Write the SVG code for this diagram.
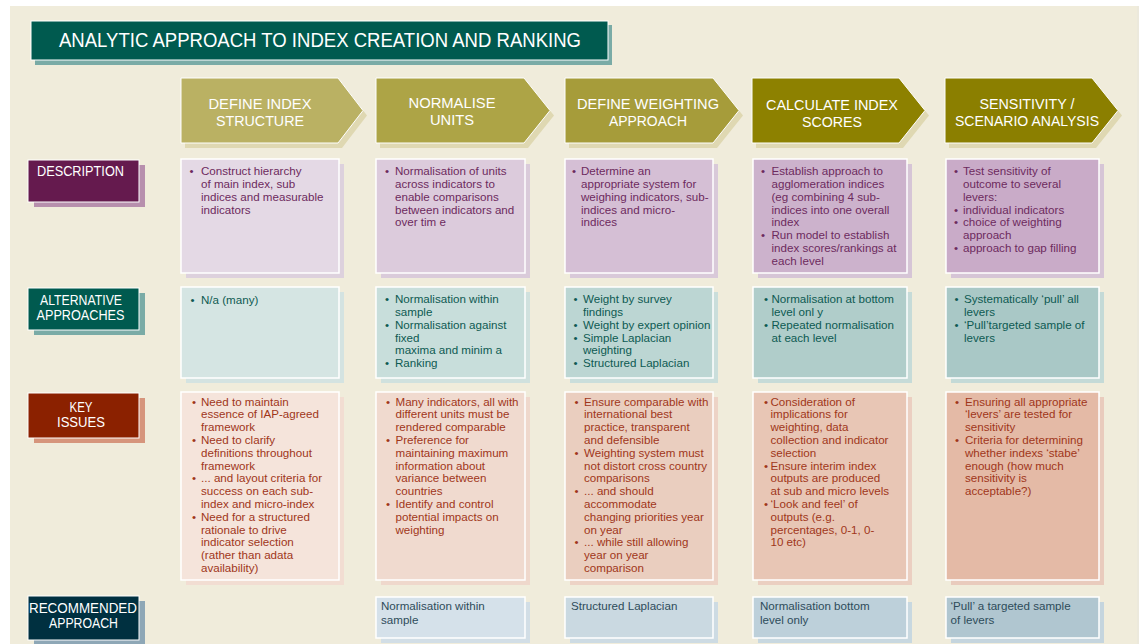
<svg xmlns="http://www.w3.org/2000/svg" width="1145" height="644" viewBox="0 0 1145 644">
<style>
.t{font-family:"Liberation Sans",Arial,sans-serif;font-size:11.6px}
.hd{font-family:"Liberation Sans",Arial,sans-serif;font-size:15px;fill:#ffffff;text-anchor:middle}
.lb{font-family:"Liberation Sans",Arial,sans-serif;font-size:14px;fill:#ffffff}
.lbc{font-family:"Liberation Sans",Arial,sans-serif;font-size:14px;fill:#ffffff;text-anchor:middle}
.d{fill:#6d2a5e}.a{fill:#0d5a52}.k{fill:#a0361a}.r{fill:#2e4c5a}
.cell{stroke:#ffffff;stroke-width:1.5}
.hdr{stroke:#ffffff;stroke-width:1}
</style>
<rect x="0" y="0" width="1145" height="644" fill="#ffffff"/>
<rect x="10" y="6" width="1127" height="640" fill="#f0ecdb"/>
<line x1="1138" y1="6" x2="1138" y2="644" stroke="#e6e2d0" stroke-width="1.5"/>

<g id="title">
<rect x="35" y="25" width="577" height="40" fill="#7aaba6"/>
<rect x="31" y="21" width="577" height="39" fill="#005a4f" stroke="#ffffff" stroke-width="1"/>
<text x="320" y="47" font-family="Liberation Sans, Arial, sans-serif" font-size="20" fill="#ffffff" text-anchor="middle" textLength="522" lengthAdjust="spacingAndGlyphs">ANALYTIC APPROACH TO INDEX CREATION AND RANKING</text>
</g>

<!-- headers -->
<g id="h1">
<path d="M185,83 H342 L367,115.5 L342,148 H185 Z" fill="#dfd8b2"/>
<path class="hdr" d="M181,78 H338 L363,110.5 L338,143 H181 Z" fill="#bab163"/>
<text class="hd" x="260" y="108.5" textLength="103" lengthAdjust="spacingAndGlyphs">DEFINE INDEX</text>
<text class="hd" x="260" y="125.5" textLength="88" lengthAdjust="spacingAndGlyphs">STRUCTURE</text>
</g>
<g id="h2">
<path d="M380,83 H528 L554,115.5 L528,148 H380 Z" fill="#dfd8b2"/>
<path class="hdr" d="M376,78 H524 L550,110.5 L524,143 H376 Z" fill="#ada446"/>
<text class="hd" x="452" y="107.5" textLength="87" lengthAdjust="spacingAndGlyphs">NORMALISE</text>
<text class="hd" x="452" y="124.5" textLength="44" lengthAdjust="spacingAndGlyphs">UNITS</text>
</g>
<g id="h3">
<path d="M569,83 H717 L743,115.5 L717,148 H569 Z" fill="#dfd8b2"/>
<path class="hdr" d="M565,78 H713 L739,110.5 L713,143 H565 Z" fill="#a69c3a"/>
<text class="hd" x="648" y="108.5" textLength="142" lengthAdjust="spacingAndGlyphs">DEFINE WEIGHTING</text>
<text class="hd" x="648" y="126" textLength="78" lengthAdjust="spacingAndGlyphs">APPROACH</text>
</g>
<g id="h4">
<path d="M756,83 H903 L929,115.5 L903,148 H756 Z" fill="#dfd8b2"/>
<path class="hdr" d="M752,78 H899 L925,110.5 L899,143 H752 Z" fill="#8d8100"/>
<text class="hd" x="832" y="109.5" textLength="132" lengthAdjust="spacingAndGlyphs">CALCULATE INDEX</text>
<text class="hd" x="832" y="127" textLength="60" lengthAdjust="spacingAndGlyphs">SCORES</text>
</g>
<g id="h5">
<path d="M949,83 H1096 L1122,115.5 L1096,148 H949 Z" fill="#dfd8b2"/>
<path class="hdr" d="M945,78 H1092 L1118,110.5 L1092,143 H945 Z" fill="#8b7f00"/>
<text class="hd" x="1027" y="108.5" textLength="95" lengthAdjust="spacingAndGlyphs">SENSITIVITY /</text>
<text class="hd" x="1027" y="126" textLength="144" lengthAdjust="spacingAndGlyphs">SCENARIO ANALYSIS</text>
</g>

<!-- row labels -->
<g id="lbl-description">
<rect x="34" y="165" width="111" height="42" fill="#b78fad"/>
<rect x="28" y="160" width="111" height="42" fill="#651a4e" stroke="#ffffff" stroke-width="1"/>
<text class="lb" x="37" y="176" textLength="87" lengthAdjust="spacingAndGlyphs">DESCRIPTION</text>
</g>
<g id="lbl-alternative">
<rect x="34" y="293" width="111" height="42" fill="#7aaba6"/>
<rect x="28" y="288" width="111" height="42" fill="#005a4f" stroke="#ffffff" stroke-width="1"/>
<text class="lbc" x="81" y="305" textLength="82" lengthAdjust="spacingAndGlyphs">ALTERNATIVE</text>
<text class="lbc" x="80.5" y="320" textLength="88" lengthAdjust="spacingAndGlyphs">APPROACHES</text>
</g>
<g id="lbl-key">
<rect x="34" y="398" width="111" height="45" fill="#d6957c"/>
<rect x="28" y="393" width="111" height="45" fill="#8b2100" stroke="#ffffff" stroke-width="1"/>
<text class="lbc" x="81" y="412" textLength="23" lengthAdjust="spacingAndGlyphs">KEY</text>
<text class="lbc" x="81" y="427" textLength="48" lengthAdjust="spacingAndGlyphs">ISSUES</text>
</g>
<g id="lbl-recommended">
<rect x="34" y="601" width="111" height="45" fill="#8ea7b6"/>
<rect x="28" y="596" width="111" height="44" fill="#003040" stroke="#ffffff" stroke-width="1"/>
<text class="lbc" x="83" y="613" textLength="108" lengthAdjust="spacingAndGlyphs">RECOMMENDED</text>
<text class="lbc" x="83.5" y="628" textLength="69" lengthAdjust="spacingAndGlyphs">APPROACH</text>
</g>

<!-- DESCRIPTION row -->
<g id="desc-1">
<rect x="186" y="164" width="158" height="114" fill="#ddd1dd"/>
<rect class="cell" x="181" y="159" width="158" height="114" fill="#e4d9e5"/>
<text class="t d"><tspan x="189.5" y="175">•</tspan></text>
<text class="t d"><tspan x="201" y="175">Construct hierarchy</tspan><tspan x="201" y="187.85">of main index, sub</tspan><tspan x="201" y="200.7">indices and measurable</tspan><tspan x="201" y="213.55">indicators</tspan></text>
</g>
<g id="desc-2">
<rect x="381" y="164" width="149" height="114" fill="#dacbda"/>
<rect class="cell" x="376" y="159" width="149" height="114" fill="#dccbdc"/>
<text class="t d"><tspan x="385" y="175">•</tspan></text>
<text class="t d"><tspan x="395" y="175">Normalisation of units</tspan><tspan x="395" y="187.85">across indicators to</tspan><tspan x="395" y="200.7">enable comparisons</tspan><tspan x="395" y="213.55">between indicators and</tspan><tspan x="395" y="226.4">over tim e</tspan></text>
</g>
<g id="desc-3">
<rect x="570" y="164" width="148" height="114" fill="#d9c9d9"/>
<rect class="cell" x="565" y="159" width="148" height="114" fill="#d5bfd5"/>
<text class="t d"><tspan x="572" y="175">•</tspan></text>
<text class="t d"><tspan x="581" y="175">Determine an</tspan><tspan x="581" y="187.85">appropriate system for</tspan><tspan x="581" y="200.7">weighing indicators, sub-</tspan><tspan x="581" y="213.55">indices and micro-</tspan><tspan x="581" y="226.4">indices</tspan></text>
</g>
<g id="desc-4">
<rect x="758" y="164" width="154" height="114" fill="#d6c5d6"/>
<rect class="cell" x="753" y="159" width="154" height="114" fill="#ccb2cc"/>
<text class="t d"><tspan x="761" y="175">•</tspan><tspan x="761" y="239.25">•</tspan></text>
<text class="t d"><tspan x="771.5" y="175">Establish approach to</tspan><tspan x="771.5" y="187.85">agglomeration indices</tspan><tspan x="771.5" y="200.7">(eg combining 4 sub-</tspan><tspan x="771.5" y="213.55">indices into one overall</tspan><tspan x="771.5" y="226.4">index</tspan><tspan x="771.5" y="239.25">Run model to establish</tspan><tspan x="771.5" y="252.1">index scores/rankings at</tspan><tspan x="771.5" y="264.95">each level</tspan></text>
</g>
<g id="desc-5">
<rect x="951" y="164" width="153" height="114" fill="#d6c5d6"/>
<rect class="cell" x="946" y="159" width="153" height="114" fill="#c9abc8"/>
<text class="t d"><tspan x="954" y="175">•</tspan><tspan x="954" y="213.55">•</tspan><tspan x="954" y="226.4">•</tspan><tspan x="954" y="252.1">•</tspan></text>
<text class="t d"><tspan x="963" y="175">Test sensitivity of</tspan><tspan x="963" y="187.85">outcome to several</tspan><tspan x="963" y="200.7">levers:</tspan><tspan x="963" y="213.55">individual indicators</tspan><tspan x="963" y="226.4">choice of weighting</tspan><tspan x="963" y="239.25">approach</tspan><tspan x="963" y="252.1">approach to gap filling</tspan></text>
</g>

<!-- ALTERNATIVE row -->
<g id="alt-1">
<rect x="186" y="292" width="158" height="91" fill="#d4e3e1"/>
<rect class="cell" x="181" y="287" width="158" height="91" fill="#d5e5e3"/>
<text class="t a"><tspan x="190.5" y="303.5">•</tspan></text>
<text class="t a"><tspan x="201" y="303.5">N/a (many)</tspan></text>
</g>
<g id="alt-2">
<rect x="381" y="292" width="149" height="91" fill="#d0e1de"/>
<rect class="cell" x="376" y="287" width="149" height="91" fill="#c8dedb"/>
<text class="t a"><tspan x="385" y="303">•</tspan><tspan x="385" y="328.7">•</tspan><tspan x="385" y="367.25">•</tspan></text>
<text class="t a"><tspan x="395" y="303">Normalisation within</tspan><tspan x="395" y="315.85">sample</tspan><tspan x="395" y="328.7">Normalisation against</tspan><tspan x="395" y="341.55">fixed</tspan><tspan x="395" y="354.4">maxima and minim a</tspan><tspan x="395" y="367.25">Ranking</tspan></text>
</g>
<g id="alt-3">
<rect x="570" y="292" width="148" height="91" fill="#cadedb"/>
<rect class="cell" x="565" y="287" width="148" height="91" fill="#bcd6d3"/>
<text class="t a"><tspan x="573.5" y="303">•</tspan><tspan x="573.5" y="328.7">•</tspan><tspan x="573.5" y="341.55">•</tspan><tspan x="573.5" y="367.25">•</tspan></text>
<text class="t a"><tspan x="583" y="303">Weight by survey</tspan><tspan x="583" y="315.85">findings</tspan><tspan x="583" y="328.7">Weight by expert opinion</tspan><tspan x="583" y="341.55">Simple Laplacian</tspan><tspan x="583" y="354.4">weighting</tspan><tspan x="583" y="367.25">Structured Laplacian</tspan></text>
</g>
<g id="alt-4">
<rect x="758" y="292" width="154" height="91" fill="#c6dbd8"/>
<rect class="cell" x="753" y="287" width="154" height="91" fill="#b0cdca"/>
<text class="t a"><tspan x="764" y="303">•</tspan><tspan x="764" y="328.7">•</tspan></text>
<text class="t a"><tspan x="771.5" y="303">Normalisation at bottom</tspan><tspan x="771.5" y="315.85">level onl y</tspan><tspan x="771.5" y="328.7">Repeated normalisation</tspan><tspan x="771.5" y="341.55">at each level</tspan></text>
</g>
<g id="alt-5">
<rect x="951" y="292" width="153" height="91" fill="#c4dad7"/>
<rect class="cell" x="946" y="287" width="153" height="91" fill="#a9c8c6"/>
<text class="t a"><tspan x="954.5" y="303">•</tspan><tspan x="954.5" y="328.7">•</tspan></text>
<text class="t a"><tspan x="964" y="303">Systematically ‘pull’ all</tspan><tspan x="964" y="315.85">levers</tspan><tspan x="964" y="328.7">‘Pull’targeted sample of</tspan><tspan x="964" y="341.55">levers</tspan></text>
</g>

<!-- KEY ISSUES row -->
<g id="key-1">
<rect x="186" y="397" width="158" height="188" fill="#f2ddd2"/>
<rect class="cell" x="181" y="392" width="158" height="188" fill="#f5e4db"/>
<text class="t k"><tspan x="192" y="405.5">•</tspan><tspan x="192" y="443.9">•</tspan><tspan x="192" y="482.3">•</tspan><tspan x="192" y="520.7">•</tspan></text>
<text class="t k"><tspan x="201" y="405.5">Need to maintain</tspan><tspan x="201" y="418.3">essence of IAP-agreed</tspan><tspan x="201" y="431.1">framework</tspan><tspan x="201" y="443.9">Need to clarify</tspan><tspan x="201" y="456.7">definitions throughout</tspan><tspan x="201" y="469.5">framework</tspan><tspan x="201" y="482.3">... and layout criteria for</tspan><tspan x="201" y="495.1">success on each sub-</tspan><tspan x="201" y="507.9">index and micro-index</tspan><tspan x="201" y="520.7">Need for a structured</tspan><tspan x="201" y="533.5">rationale to drive</tspan><tspan x="201" y="546.3">indicator selection</tspan><tspan x="201" y="559.1">(rather than adata</tspan><tspan x="201" y="571.9">availability)</tspan></text>
</g>
<g id="key-2">
<rect x="381" y="397" width="149" height="188" fill="#efd8cc"/>
<rect class="cell" x="376" y="392" width="149" height="188" fill="#f0dacf"/>
<text class="t k"><tspan x="386" y="405.5">•</tspan><tspan x="386" y="443.9">•</tspan><tspan x="386" y="507.9">•</tspan></text>
<text class="t k"><tspan x="395.5" y="405.5">Many indicators, all with</tspan><tspan x="395.5" y="418.3">different units must be</tspan><tspan x="395.5" y="431.1">rendered comparable</tspan><tspan x="395.5" y="443.9">Preference for</tspan><tspan x="395.5" y="456.7">maintaining maximum</tspan><tspan x="395.5" y="469.5">information about</tspan><tspan x="395.5" y="482.3">variance between</tspan><tspan x="395.5" y="495.1">countries</tspan><tspan x="395.5" y="507.9">Identify and control</tspan><tspan x="395.5" y="520.7">potential impacts on</tspan><tspan x="395.5" y="533.5">weighting</tspan></text>
</g>
<g id="key-3">
<rect x="570" y="397" width="148" height="188" fill="#edd3c6"/>
<rect class="cell" x="565" y="392" width="148" height="188" fill="#eacebf"/>
<text class="t k"><tspan x="574.5" y="405.5">•</tspan><tspan x="574.5" y="456.7">•</tspan><tspan x="574.5" y="495.1">•</tspan><tspan x="574.5" y="546.3">•</tspan></text>
<text class="t k"><tspan x="584" y="405.5">Ensure comparable with</tspan><tspan x="584" y="418.3">international best</tspan><tspan x="584" y="431.1">practice, transparent</tspan><tspan x="584" y="443.9">and defensible</tspan><tspan x="584" y="456.7">Weighting system must</tspan><tspan x="584" y="469.5">not distort cross country</tspan><tspan x="584" y="482.3">comparisons</tspan><tspan x="584" y="495.1">... and should</tspan><tspan x="584" y="507.9">accommodate</tspan><tspan x="584" y="520.7">changing priorities year</tspan><tspan x="584" y="533.5">on year</tspan><tspan x="584" y="546.3">... while still allowing</tspan><tspan x="584" y="559.1">year on year</tspan><tspan x="584" y="571.9">comparison</tspan></text>
</g>
<g id="key-4">
<rect x="758" y="397" width="154" height="188" fill="#ebcfc1"/>
<rect class="cell" x="753" y="392" width="154" height="188" fill="#e8c6b5"/>
<text class="t k"><tspan x="764" y="405.5">•</tspan><tspan x="764" y="469.5">•</tspan><tspan x="764" y="507.9">•</tspan></text>
<text class="t k"><tspan x="770.5" y="405.5">Consideration of</tspan><tspan x="770.5" y="418.3">implications for</tspan><tspan x="770.5" y="431.1">weighting, data</tspan><tspan x="770.5" y="443.9">collection and indicator</tspan><tspan x="770.5" y="456.7">selection</tspan><tspan x="770.5" y="469.5">Ensure interim index</tspan><tspan x="770.5" y="482.3">outputs are produced</tspan><tspan x="770.5" y="495.1">at sub and micro levels</tspan><tspan x="770.5" y="507.9">‘Look and feel’ of</tspan><tspan x="770.5" y="520.7">outputs (e.g.</tspan><tspan x="770.5" y="533.5">percentages, 0-1, 0-</tspan><tspan x="770.5" y="546.3">10 etc)</tspan></text>
</g>
<g id="key-5">
<rect x="951" y="397" width="153" height="188" fill="#e9cbbd"/>
<rect class="cell" x="946" y="392" width="153" height="188" fill="#e4baa6"/>
<text class="t k"><tspan x="955" y="405.5">•</tspan><tspan x="955" y="443.9">•</tspan></text>
<text class="t k"><tspan x="965" y="405.5">Ensuring all appropriate</tspan><tspan x="965" y="418.3">‘levers’ are tested for</tspan><tspan x="965" y="431.1">sensitivity</tspan><tspan x="965" y="443.9">Criteria for determining</tspan><tspan x="965" y="456.7">whether indexs ‘stabe’</tspan><tspan x="965" y="469.5">enough (how much</tspan><tspan x="965" y="482.3">sensitivity is</tspan><tspan x="965" y="495.1">acceptable?)</tspan></text>
</g>

<!-- RECOMMENDED row -->
<g id="rec-2">
<rect x="381" y="602" width="149" height="41" fill="#d2dee6"/>
<rect class="cell" x="376" y="597" width="149" height="41" fill="#d5e1ea"/>
<text class="t r"><tspan x="381" y="610">Normalisation within</tspan><tspan x="381" y="623.5">sample</tspan></text>
</g>
<g id="rec-3">
<rect x="570" y="602" width="148" height="41" fill="#cddbe3"/>
<rect class="cell" x="565" y="597" width="148" height="41" fill="#cad9e1"/>
<text class="t r"><tspan x="571" y="610">Structured Laplacian</tspan></text>
</g>
<g id="rec-4">
<rect x="758" y="602" width="154" height="41" fill="#c8d8e0"/>
<rect class="cell" x="753" y="597" width="154" height="41" fill="#bdd0da"/>
<text class="t r"><tspan x="760" y="610">Normalisation bottom</tspan><tspan x="760" y="623.5">level only</tspan></text>
</g>
<g id="rec-5">
<rect x="951" y="602" width="153" height="41" fill="#c5d5de"/>
<rect class="cell" x="946" y="597" width="153" height="41" fill="#b0c6d0"/>
<text class="t r"><tspan x="950.5" y="610">‘Pull’ a targeted sample</tspan><tspan x="950.5" y="623.5">of levers</tspan></text>
</g>

<g id="connectors"></g>
</svg>
